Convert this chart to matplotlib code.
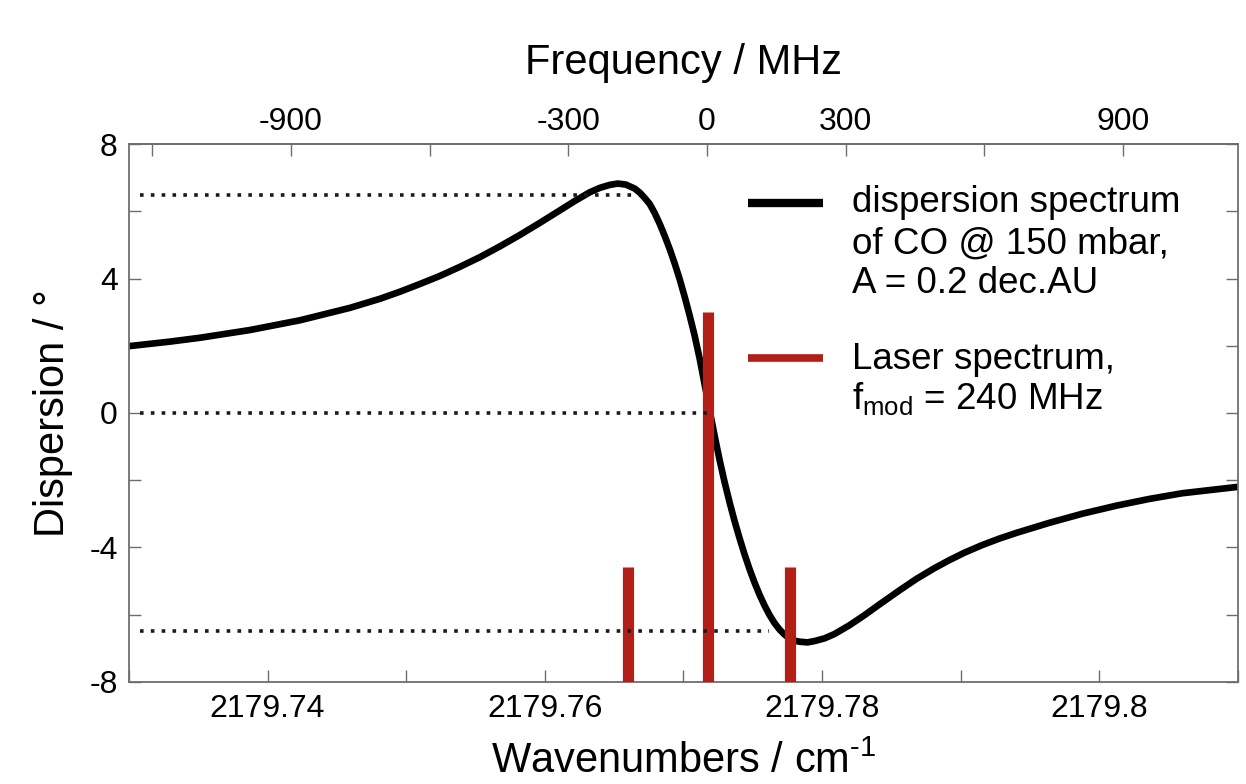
import matplotlib
matplotlib.use("Agg")
import matplotlib.pyplot as plt
from matplotlib.ticker import FixedLocator, FuncFormatter

plt.rcParams['font.family'] = ['Liberation Sans', 'DejaVu Sans']
plt.rcParams['mathtext.fontset'] = 'custom'
plt.rcParams['mathtext.rm'] = 'Liberation Sans'
plt.rcParams['mathtext.default'] = 'regular'
plt.rcParams['axes.unicode_minus'] = False

# dispersion curve (wavenumber / cm-1, dispersion / deg)
wn_curve = [2179.73002, 2179.73297, 2179.73514, 2179.73874, 2179.74234,
            2179.74595, 2179.74811, 2179.74955, 2179.75099, 2179.75243,
            2179.75387, 2179.75532, 2179.75676, 2179.75820, 2179.75964,
            2179.76108, 2179.76216, 2179.76324, 2179.76396, 2179.76468,
            2179.76526, 2179.76584, 2179.76649, 2179.76685, 2179.76721,
            2179.76757, 2179.76793, 2179.76829, 2179.76865, 2179.76901,
            2179.76937, 2179.76973, 2179.77009, 2179.77045, 2179.77081,
            2179.77117, 2179.77153, 2179.77189, 2179.77225, 2179.77261,
            2179.77297, 2179.77333, 2179.77369, 2179.77405, 2179.77441,
            2179.77477, 2179.77514, 2179.77550, 2179.77586, 2179.77622,
            2179.77658, 2179.77694, 2179.77730, 2179.77766, 2179.77802,
            2179.77838, 2179.77895, 2179.77946, 2179.78018, 2179.78090,
            2179.78198, 2179.78306, 2179.78414, 2179.78559, 2179.78681,
            2179.78811, 2179.78919, 2179.79027, 2179.79157, 2179.79279,
            2179.79402, 2179.79640, 2179.79877, 2179.80123, 2179.80360,
            2179.80598, 2179.81000]
disp_curve = [1.99, 2.125, 2.24, 2.47, 2.76,
              3.13, 3.40, 3.61, 3.84, 4.08,
              4.35, 4.64, 4.96, 5.30, 5.66,
              6.03, 6.31, 6.57, 6.70, 6.79,
              6.83, 6.80, 6.68, 6.56, 6.40,
              6.22, 5.95, 5.63, 5.27, 4.88,
              4.45, 3.98, 3.46, 2.90, 2.30,
              1.62, 0.85, 0.08, -0.68, -1.40,
              -2.06, -2.66, -3.22, -3.73, -4.21,
              -4.65, -5.06, -5.42, -5.74, -6.02,
              -6.26, -6.45, -6.60, -6.71, -6.78,
              -6.81, -6.83, -6.79, -6.71, -6.58,
              -6.32, -6.02, -5.70, -5.28, -4.94,
              -4.62, -4.38, -4.16, -3.93, -3.74,
              -3.57, -3.27, -3.00, -2.76, -2.56,
              -2.39, -2.20]

# laser lines: carrier and two sidebands
laser_wn = [2179.7660, 2179.7718, 2179.7777]
laser_top = [-4.6, 3.0, -4.6]

# dotted guide lines
guide_levels = [6.5, 0.0, -6.5]
guide_ends = [2179.7665, 2179.7718, 2179.7762]

wn_center = 2179.7717   # 0 MHz on the top axis
mhz_per_wn = 29979.2458

xlim = (2179.73, 2179.81)
ylim = (-8, 8)
x_major = [2179.74, 2179.76, 2179.78, 2179.80]
x_minor = [2179.73, 2179.75, 2179.77, 2179.79, 2179.81]
y_major = [-8, -4, 0, 4, 8]
y_minor = [-6, -2, 2, 6]
f_major = [-900, -300, 0, 300, 900]
f_minor = [-1200, -600, 600]

red = '#b11f16'
frame = '#6e6e6e'

fig = plt.figure(figsize=(12.46, 7.84), dpi=100)
ax = fig.add_axes([0.1035, 0.1305, 0.89, 0.6855])

ax.plot(wn_curve, disp_curve, color='black', lw=4.8, zorder=2,
        solid_joinstyle='round')
ax.vlines(laser_wn, ylim[0], laser_top, color=red, lw=8, zorder=3,
          capstyle='butt')
for lev, end in zip(guide_levels, guide_ends):
    ax.plot([xlim[0] + 0.0008, end], [lev, lev], color='#1a1a1a', lw=2.6,
            linestyle=(0, (1, 2)), zorder=4)

ax.set_xlim(*xlim)
ax.set_ylim(*ylim)
ax.xaxis.set_major_locator(FixedLocator(x_major))
ax.xaxis.set_minor_locator(FixedLocator(x_minor))
ax.xaxis.set_major_formatter(FuncFormatter(lambda v, p: '%g' % v))
ax.yaxis.set_major_locator(FixedLocator(y_major))
ax.yaxis.set_minor_locator(FixedLocator(y_minor))
ax.tick_params(which='both', direction='in', length=8.5, width=1,
               color=frame, top=False, right=True, labelsize=23, pad=8)
ax.tick_params(axis='x', pad=9)
for s in ax.spines.values():
    s.set_color(frame)
    s.set_linewidth(1.3)

secax = ax.secondary_xaxis('top', functions=(
    lambda w: (w - wn_center) * mhz_per_wn,
    lambda f: f / mhz_per_wn + wn_center))
secax.xaxis.set_major_locator(FixedLocator(f_major))
secax.xaxis.set_minor_locator(FixedLocator(f_minor))
secax.xaxis.set_major_formatter(FuncFormatter(lambda v, p: '%d' % round(v)))
secax.tick_params(which='both', direction='in', length=8.5, width=1,
                  color=frame, labelsize=23, pad=5)
secax.spines['top'].set_color(frame)
secax.spines['top'].set_linewidth(1.3)

ax.set_xlabel(r'Wavenumbers / cm$^{\text{-1}}$', fontsize=30, labelpad=12.5)
ax.set_ylabel('Dispersion / °', fontsize=30, labelpad=11.5)
secax.set_xlabel('Frequency / MHz', fontsize=30, labelpad=24)

# legend drawn by hand so the swatch sits on the first text line
ax.plot([0.558, 0.626], [0.8908, 0.8908], color='black', lw=6,
        transform=ax.transAxes, solid_capstyle='butt')
ax.plot([0.558, 0.626], [0.6018, 0.6018], color=red, lw=5.5,
        transform=ax.transAxes, solid_capstyle='butt')
legend_lines = ['dispersion spectrum', 'of CO @ 150 mbar,', 'A = 0.2 dec.AU',
                'Laser spectrum,', 'f$_{mod}$ = 240 MHz']
legend_y = [0.8746, 0.7972, 0.7227, 0.5819, 0.5074]
for txt, yy in zip(legend_lines, legend_y):
    ax.text(0.6517, yy, txt, transform=ax.transAxes, fontsize=26.5,
            va='baseline', ha='left')

fig.savefig('out.png', dpi=100)
